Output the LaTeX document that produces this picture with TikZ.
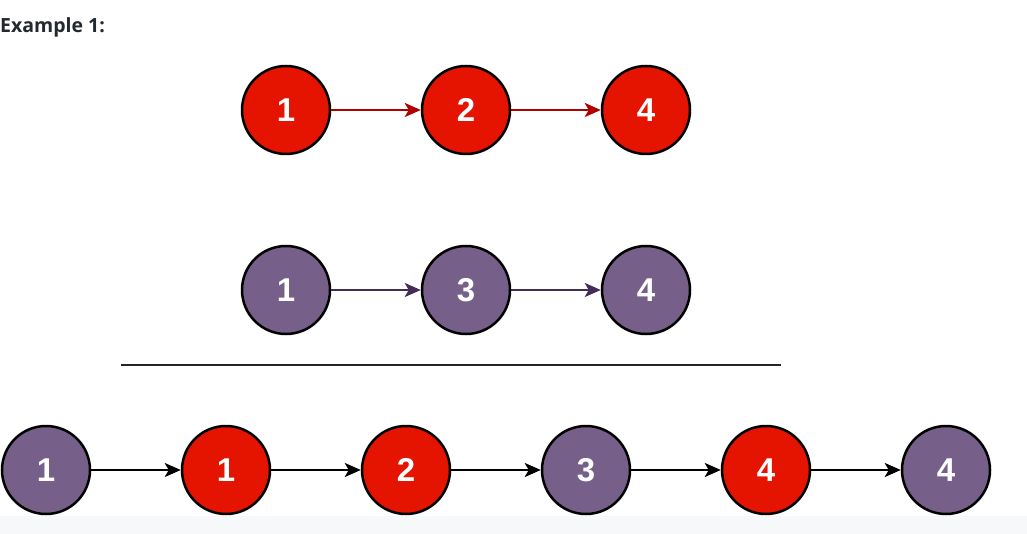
\documentclass[tikz,border=0pt]{standalone}
\usepackage{fontspec}
\setmainfont{Liberation Sans}
\newfontfamily\titlefont{Open Sans}
\usetikzlibrary{arrows.meta}
\definecolor{nred}{HTML}{E51400}
\definecolor{npurple}{HTML}{76608A}
\definecolor{ared}{HTML}{B20000}
\definecolor{apurple}{HTML}{432D57}
\definecolor{strip}{HTML}{F6F8FA}
\definecolor{titlec}{HTML}{24292F}
\tikzset{
  lnode/.style={circle, draw=black, line width=2.5pt, minimum size=88pt, inner sep=0pt,
    text=white, font=\fontsize{33}{33}\selectfont\bfseries},
  rednode/.style={lnode, fill=nred},
  purnode/.style={lnode, fill=npurple},
  link/.style={line width=2.2pt, -{Stealth[length=16pt,width=14pt,inset=4pt]}},
}
\begin{document}
\begin{tikzpicture}[x=1pt,y=-1pt]
\useasboundingbox (0,0) rectangle (1027,534);
\fill[white] (0,0) rectangle (1027,534);
\node[anchor=base west, inner sep=0pt, text=titlec, font=\titlefont\fontsize{19.5}{19.5}\selectfont\bfseries] (title) at (0,33) {Example 1:};
% top row
\node[rednode] (a1) at (286,110) {1};
\node[rednode] (a2) at (466,110) {2};
\node[rednode] (a3) at (646,110) {4};
\draw[link, draw=ared] (a1) -- (a2);
\draw[link, draw=ared] (a2) -- (a3);
% middle row
\node[purnode] (b1) at (286,290) {1};
\node[purnode] (b2) at (466,290) {3};
\node[purnode] (b3) at (646,290) {4};
\draw[link, draw=apurple] (b1) -- (b2);
\draw[link, draw=apurple] (b2) -- (b3);
% separator
\coordinate (s1) at (121,365);
\coordinate (s2) at (781,365);
\draw[line width=2.6pt, draw=black!85] (s1) -- (s2);
% bottom row
\node[purnode] (c1) at (46,470) {1};
\node[rednode] (c2) at (226,470) {1};
\node[rednode] (c3) at (406,470) {2};
\node[purnode] (c4) at (586,470) {3};
\node[rednode] (c5) at (766,470) {4};
\node[purnode] (c6) at (946,470) {4};
\draw[link] (c1) -- (c2);
\draw[link] (c2) -- (c3);
\draw[link] (c3) -- (c4);
\draw[link] (c4) -- (c5);
\draw[link] (c5) -- (c6);
% bottom strip
\fill[strip] (0,516) rectangle (1027,534);
\end{tikzpicture}
\end{document}
